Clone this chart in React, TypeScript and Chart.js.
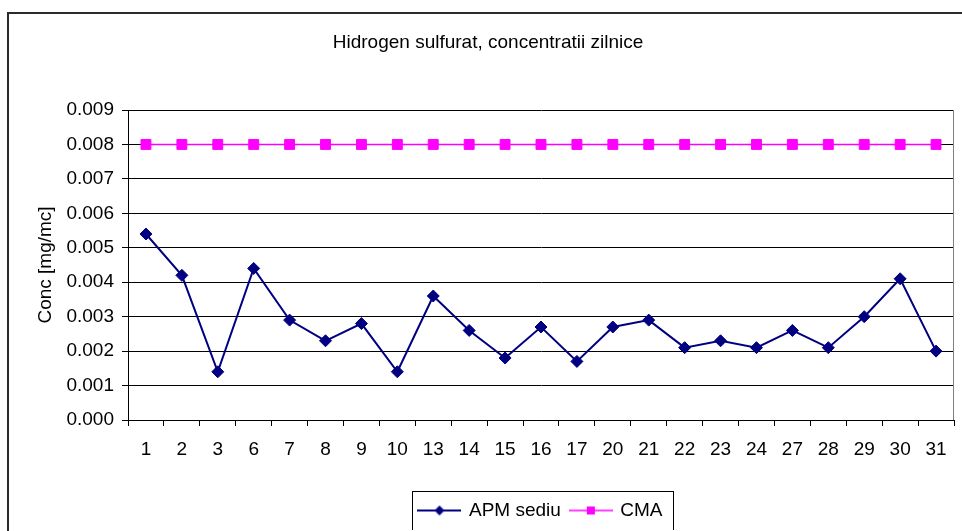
import React, { useEffect, useRef } from "react";
import { Chart, registerables } from "chart.js";

Chart.register(...registerables);

const chartTitle = "Hidrogen sulfurat, concentratii zilnice";
const yAxisTitle = "Conc [mg/mc]";
const days = ["1", "2", "3", "6", "7", "8", "9", "10", "13", "14", "15", "16", "17", "20", "21", "22", "23", "24", "27", "28", "29", "30", "31"];
const apmSediu = [0.0054, 0.0042, 0.0014, 0.0044, 0.0029, 0.0023, 0.0028, 0.0014, 0.0036, 0.0026, 0.0018, 0.0027, 0.0017, 0.0027, 0.0029, 0.0021, 0.0023, 0.0021, 0.0026, 0.0021, 0.0030, 0.0041, 0.0020];
const cma = [0.008, 0.008, 0.008, 0.008, 0.008, 0.008, 0.008, 0.008, 0.008, 0.008, 0.008, 0.008, 0.008, 0.008, 0.008, 0.008, 0.008, 0.008, 0.008, 0.008, 0.008, 0.008, 0.008];
const yMin = 0;
const yMax = 0.009;
const yStep = 0.001;

const NAVY = "#000080";
const MAGENTA = "#FF00FF";
const FONT = "'Liberation Sans', Arial, sans-serif";
const FS = 19;

function legendIcon(color: string, kind: "diamond" | "square"): HTMLCanvasElement {
  const c = document.createElement("canvas");
  c.width = 44;
  c.height = 14;
  const ctx = c.getContext("2d")!;
  ctx.strokeStyle = color;
  ctx.lineWidth = kind === "diamond" ? 2 : 1.5;
  ctx.beginPath();
  ctx.moveTo(0, 7);
  ctx.lineTo(44, 7);
  ctx.stroke();
  ctx.fillStyle = color;
  if (kind === "diamond") {
    ctx.beginPath();
    ctx.moveTo(22, 2);
    ctx.lineTo(27, 7);
    ctx.lineTo(22, 12);
    ctx.lineTo(17, 7);
    ctx.closePath();
    ctx.fill();
  } else {
    ctx.fillRect(18, 3, 8, 8);
  }
  return c;
}

const framePlugin = {
  id: "frame",
  beforeDatasetsDraw(chart: any) {
    const { ctx, chartArea } = chart;
    ctx.save();
    ctx.strokeStyle = "#808080";
    ctx.lineWidth = 1;
    const x = Math.round(chartArea.right) - 0.5;
    ctx.beginPath();
    ctx.moveTo(x, chartArea.top);
    ctx.lineTo(x, chartArea.bottom);
    ctx.stroke();
    ctx.restore();
  },
  afterDraw(chart: any) {
    const { ctx } = chart;
    const boxes = chart.legend?.legendHitBoxes;
    if (!boxes || !boxes.length) return;
    let l = Infinity, r = -Infinity, t = Infinity, b = -Infinity;
    for (const h of boxes) {
      l = Math.min(l, h.left);
      r = Math.max(r, h.left + h.width);
      t = Math.min(t, h.top);
      b = Math.max(b, h.top + h.height);
    }
    ctx.save();
    ctx.strokeStyle = "#000";
    ctx.lineWidth = 1;
    const x0 = Math.round(l - 7) + 0.5;
    const x1 = Math.round(r + 10) + 0.5;
    const y0 = Math.round(t - 10) + 0.5;
    const y1 = Math.round(b + 10) + 0.5;
    ctx.strokeRect(x0, y0, x1 - x0, y1 - y0);
    ctx.restore();
  },
};

export default function App() {
  const ref = useRef<HTMLCanvasElement>(null);

  useEffect(() => {
    if (!ref.current) return;
    const icons = [legendIcon(NAVY, "diamond"), legendIcon(MAGENTA, "square")];
    const chart = new Chart(ref.current, {
      type: "line",
      data: {
        labels: days,
        datasets: [
          {
            label: "APM sediu",
            data: apmSediu,
            borderColor: NAVY,
            backgroundColor: NAVY,
            borderWidth: 2,
            pointStyle: "rectRot",
            pointRadius: 6,
            pointBorderWidth: 1,
            pointBackgroundColor: NAVY,
            pointBorderColor: NAVY,
            tension: 0,
          },
          {
            label: "CMA",
            data: cma,
            borderColor: MAGENTA,
            backgroundColor: MAGENTA,
            borderWidth: 1.5,
            pointStyle: "rect",
            pointRadius: 7,
            pointBorderWidth: 1,
            pointBackgroundColor: MAGENTA,
            pointBorderColor: MAGENTA,
            tension: 0,
          },
        ],
      },
      options: {
        responsive: false,
        animation: false,
        devicePixelRatio: 1,
        layout: { padding: { left: 20, right: 6, top: 0, bottom: 0 } },
        plugins: {
          tooltip: { enabled: false },
          title: {
            display: true,
            text: chartTitle,
            color: "#000",
            font: { family: FONT, size: FS, weight: "normal" },
            padding: { top: 31.6, bottom: 55.6 },
          },
          legend: {
            display: true,
            position: "bottom",
            fullSize: false,
            labels: {
              usePointStyle: true,
              pointStyleWidth: 40,
              padding: 10,
              color: "#000",
              font: { family: FONT, size: FS },
              generateLabels: (c: any) => {
                const items = (Chart.defaults.plugins.legend.labels as any).generateLabels(c);
                items.forEach((it: any, i: number) => {
                  it.pointStyle = icons[i];
                });
                return items;
              },
            },
          },
        },
        scales: {
          x: {
            type: "category",
            offset: true,
            grid: {
              offset: true,
              drawOnChartArea: false,
              drawTicks: true,
              tickLength: 6,
              color: "#000",
            },
            border: { display: true, color: "#000", width: 1 },
            ticks: {
              color: "#000",
              padding: 12,
              maxRotation: 0,
              autoSkip: false,
              font: { family: FONT, size: FS },
            },
            afterFit: (s: any) => {
              s.height = 71;
            },
          },
          y: {
            min: yMin,
            max: yMax,
            grid: {
              color: "#000",
              drawTicks: true,
              tickLength: 6,
            },
            border: { display: true, color: "#000", width: 1 },
            ticks: {
              stepSize: yStep,
              color: "#000",
              padding: 8,
              font: { family: FONT, size: FS },
              callback: (v: any) => Number(v).toFixed(3),
            },
            title: {
              display: true,
              text: yAxisTitle,
              color: "#000",
              font: { family: FONT, size: FS },
              padding: { top: 14, bottom: 0 },
            },
            afterFit: (s: any) => {
              s.width = 108;
            },
          },
        },
      },
      plugins: [framePlugin],
    } as any);
    return () => chart.destroy();
  }, []);

  return (
    <div
      style={{
        position: "fixed",
        left: 0,
        top: 0,
        width: 962,
        height: 531,
        overflow: "hidden",
        background: "#fff",
      }}
    >
      <canvas ref={ref} width={962} height={530} style={{ position: "absolute", left: 0, top: 0, width: 962, height: 530 }} />
      <div
        style={{
          position: "absolute",
          left: 7,
          top: 12,
          width: 1000,
          height: 600,
          borderLeft: "2px solid #2b2b2b",
          borderTop: "2px solid #2b2b2b",
          pointerEvents: "none",
        }}
      />
    </div>
  );
}
